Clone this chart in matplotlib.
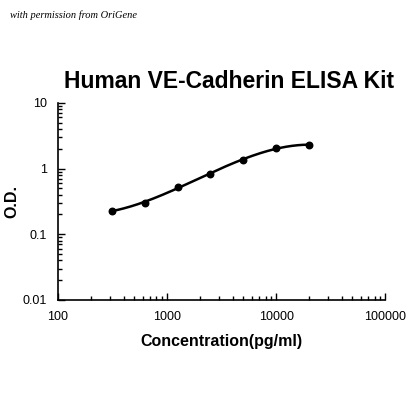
import numpy as np
import matplotlib.pyplot as plt
from matplotlib.ticker import LogLocator, FixedLocator, NullFormatter

conc = [312.5, 625, 1250, 2500, 5000, 10000, 20000]
od = [0.227, 0.30, 0.53, 0.84, 1.34, 2.07, 2.29]
xticks = [100, 1000, 10000, 100000]
xticklabels = ["100", "1000", "10000", "100000"]
yticks = [0.01, 0.1, 1, 10]
yticklabels = ["0.01", "0.1", "1", "10"]

plt.rcParams['font.family'] = ['Liberation Sans', 'DejaVu Sans']

fig = plt.figure(figsize=(4.2, 4.2), dpi=100)
ax = fig.add_axes([0.138, 0.286, 0.779, 0.469])

# smooth fit line in log space
lx = np.log10(conc)
ly = np.log10(od)
coef = np.polyfit(lx, ly, 3)
xs = np.linspace(lx[0], lx[-1], 200)
ax.plot(10**xs, 10**np.polyval(coef, xs), color='black', lw=1.8)
ax.scatter(conc, od, color='black', s=22, zorder=3)

ax.set_xscale('log')
ax.set_yscale('log')
ax.set_xlim(100, 100000)
ax.set_ylim(0.01, 10)
ax.xaxis.set_major_locator(FixedLocator(xticks))
ax.set_xticklabels(xticklabels)
ax.yaxis.set_major_locator(FixedLocator(yticks))
ax.set_yticklabels(yticklabels)
ax.xaxis.set_minor_locator(LogLocator(base=10, subs=np.arange(2, 10)))
ax.yaxis.set_minor_locator(LogLocator(base=10, subs=np.arange(2, 10)))
ax.xaxis.set_minor_formatter(NullFormatter())
ax.yaxis.set_minor_formatter(NullFormatter())
ax.tick_params(which='both', direction='in', labelsize=9, width=1)
ax.tick_params(which='major', length=5, pad=8)
ax.tick_params(which='minor', length=3)
for s in ['top', 'right']:
    ax.spines[s].set_visible(False)
for s in ['left', 'bottom']:
    ax.spines[s].set_linewidth(1.2)

ax.set_xlabel("Concentration(pg/ml)", fontsize=11.5, fontweight='bold', labelpad=8)
ax.set_ylabel("O.D.", fontsize=11.5, fontweight='bold', labelpad=2)
fig.text(0.545, 0.805, "Human VE-Cadherin ELISA Kit", ha='center', va='center',
         fontsize=16.5, fontweight='bold')
fig.text(0.025, 0.963, "with permission from OriGene", ha='left', va='center',
         fontsize=7.5, style='italic', family='Liberation Serif')

fig.savefig("out.png", dpi=100)
